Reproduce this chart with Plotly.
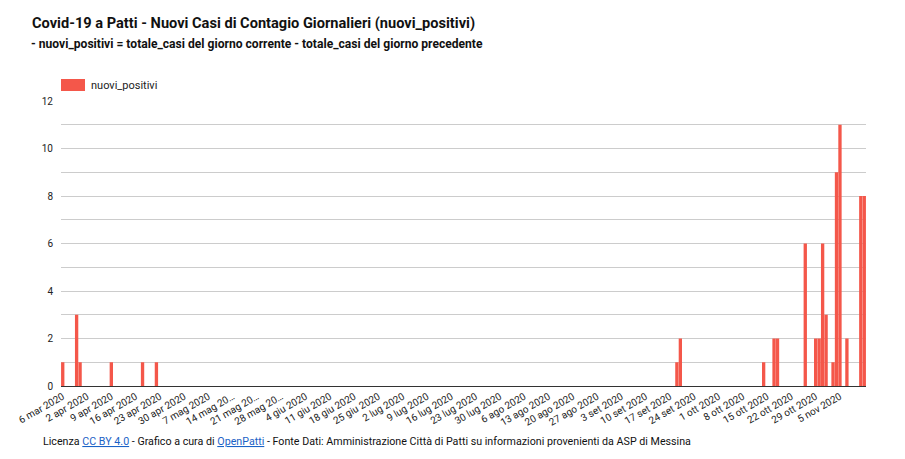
import datetime as dt
import plotly.graph_objects as go

# Reporting days: a single early record on 6 March, then daily from 27 March to 12 November 2020
first_day = ["2020-03-06"]
daily_start = dt.date(2020, 3, 27)
daily_end = dt.date(2020, 11, 12)

# Daily new positive cases, by month
new_mar06 = [1]
new_mar = [0, 0, 0, 3, 1]  # 27-31 mar
new_apr = [0, 0, 0, 0, 0, 0, 0, 0, 1, 0,
           0, 0, 0, 0, 0, 0, 0, 1, 0, 0,
           0, 1, 0, 0, 0, 0, 0, 0, 0, 0]
new_may = [0] * 31
new_jun = [0] * 30
new_jul = [0] * 31
new_aug = [0] * 31
new_sep = [0, 0, 0, 0, 0, 0, 0, 0, 0, 0,
           0, 0, 0, 0, 0, 0, 0, 0, 1, 2,
           0, 0, 0, 0, 0, 0, 0, 0, 0, 0]
new_oct = [0, 0, 0, 0, 0, 0, 0, 0, 0, 0,
           0, 0, 0, 1, 0, 0, 2, 2, 0, 0,
           0, 0, 0, 0, 0, 6, 0, 0, 2, 2,
           6]
new_nov = [3, 0, 1, 9, 11, 0, 2, 0, 0, 0, 8, 8]  # 1-12 nov

# Weekly tick labels on the category axis
tick_labels = ["6 mar 2020", "2 apr 2020", "9 apr 2020", "16 apr 2020", "23 apr 2020",
               "30 apr 2020", "7 mag 2020", "14 mag 20…", "21 mag 20…", "28 mag 20…",
               "4 giu 2020", "11 giu 2020", "18 giu 2020", "25 giu 2020", "2 lug 2020",
               "9 lug 2020", "16 lug 2020", "23 lug 2020", "30 lug 2020", "6 ago 2020",
               "13 ago 2020", "20 ago 2020", "27 ago 2020", "3 set 2020", "10 set 2020",
               "17 set 2020", "24 set 2020", "1 ott 2020", "8 ott 2020", "15 ott 2020",
               "22 ott 2020", "29 ott 2020", "5 nov 2020"]

days = list(first_day)
d = daily_start
while d <= daily_end:
    days.append(d.isoformat())
    d += dt.timedelta(days=1)

values = (new_mar06 + new_mar + new_apr + new_may + new_jun + new_jul
          + new_aug + new_sep + new_oct + new_nov)

tick_idx = list(range(0, len(days), 7))[:len(tick_labels)]
tick_vals = [days[i] for i in tick_idx]

BAR = "#f4574a"
FONT = "Roboto, Arial, sans-serif"

fig = go.Figure()
fig.add_trace(go.Bar(
    x=days, y=values, name="nuovi_positivi",
    marker=dict(color=BAR, line=dict(width=0)),
    showlegend=False,
))

fig.update_layout(
    width=905, height=459,
    margin=dict(l=61, r=39, t=101, b=73),
    paper_bgcolor="white", plot_bgcolor="white",
    bargap=0.04,
    font=dict(family=FONT, size=10, color="#222222"),
    xaxis=dict(
        type="category",
        tickmode="array", tickvals=tick_vals, ticktext=tick_labels,
        tickangle=-30, tickfont=dict(size=10, color="#222222"),
        showgrid=False, showline=True, linecolor="#333333", linewidth=1,
        ticks="", range=[-0.5, len(days) - 0.5],
    ),
    yaxis=dict(
        range=[0, 12], dtick=2, tick0=0,
        showgrid=True, gridcolor="#cccccc", gridwidth=1,
        minor=dict(dtick=1, showgrid=True, gridcolor="#cccccc", gridwidth=1),
        zeroline=False, showline=False, ticks="",
        tickfont=dict(size=10, color="#222222"),
        ticklabelstandoff=7,
    ),
)

# Title and subtitle
fig.add_annotation(
    text="<b>Covid-19 a Patti - Nuovi Casi di Contagio Giornalieri (nuovi_positivi)</b>",
    xref="paper", yref="paper", x=-61 / 805, y=1 + 78 / 285,
    xanchor="left", yanchor="middle", showarrow=False,
    font=dict(family=FONT, size=14.6, color="#111111"),
    xshift=30,
)
fig.add_annotation(
    text="<b>- nuovi_positivi = totale_casi del giorno corrente - totale_casi del giorno precedente</b>",
    xref="paper", yref="paper", x=-61 / 805, y=1 + 57 / 285,
    xanchor="left", yanchor="middle", showarrow=False,
    font=dict(family=FONT, size=12.1, color="#111111"),
    xshift=29,
)

# Legend key
fig.add_shape(
    type="rect", xref="paper", yref="paper",
    x0=0, x1=24 / 805, y0=1 + 10 / 285, y1=1 + 22 / 285,
    fillcolor=BAR, line=dict(width=0),
)
fig.add_annotation(
    text="nuovi_positivi", xref="paper", yref="paper",
    x=28 / 805, y=1 + 16 / 285, xanchor="left", yanchor="middle",
    showarrow=False, font=dict(family=FONT, size=11, color="#222222"),
)

# Footer with credits
fig.add_annotation(
    text=("Licenza <a href='https://creativecommons.org/licenses/by/4.0/' "
          "style='color:#1a62c6;text-decoration:underline'>CC BY 4.0</a> - Grafico a cura di "
          "<a href='https://openpatti.it' style='color:#1a62c6;text-decoration:underline'>OpenPatti</a>"
          " - Fonte Dati: Amministrazione Città di Patti su informazioni provenienti da ASP di Messina"),
    xref="paper", yref="paper", x=-20 / 805, y=-55 / 285,
    xanchor="left", yanchor="middle", showarrow=False,
    font=dict(family=FONT, size=10.7, color="#111111"),
)

fig.write_html("out.html")
